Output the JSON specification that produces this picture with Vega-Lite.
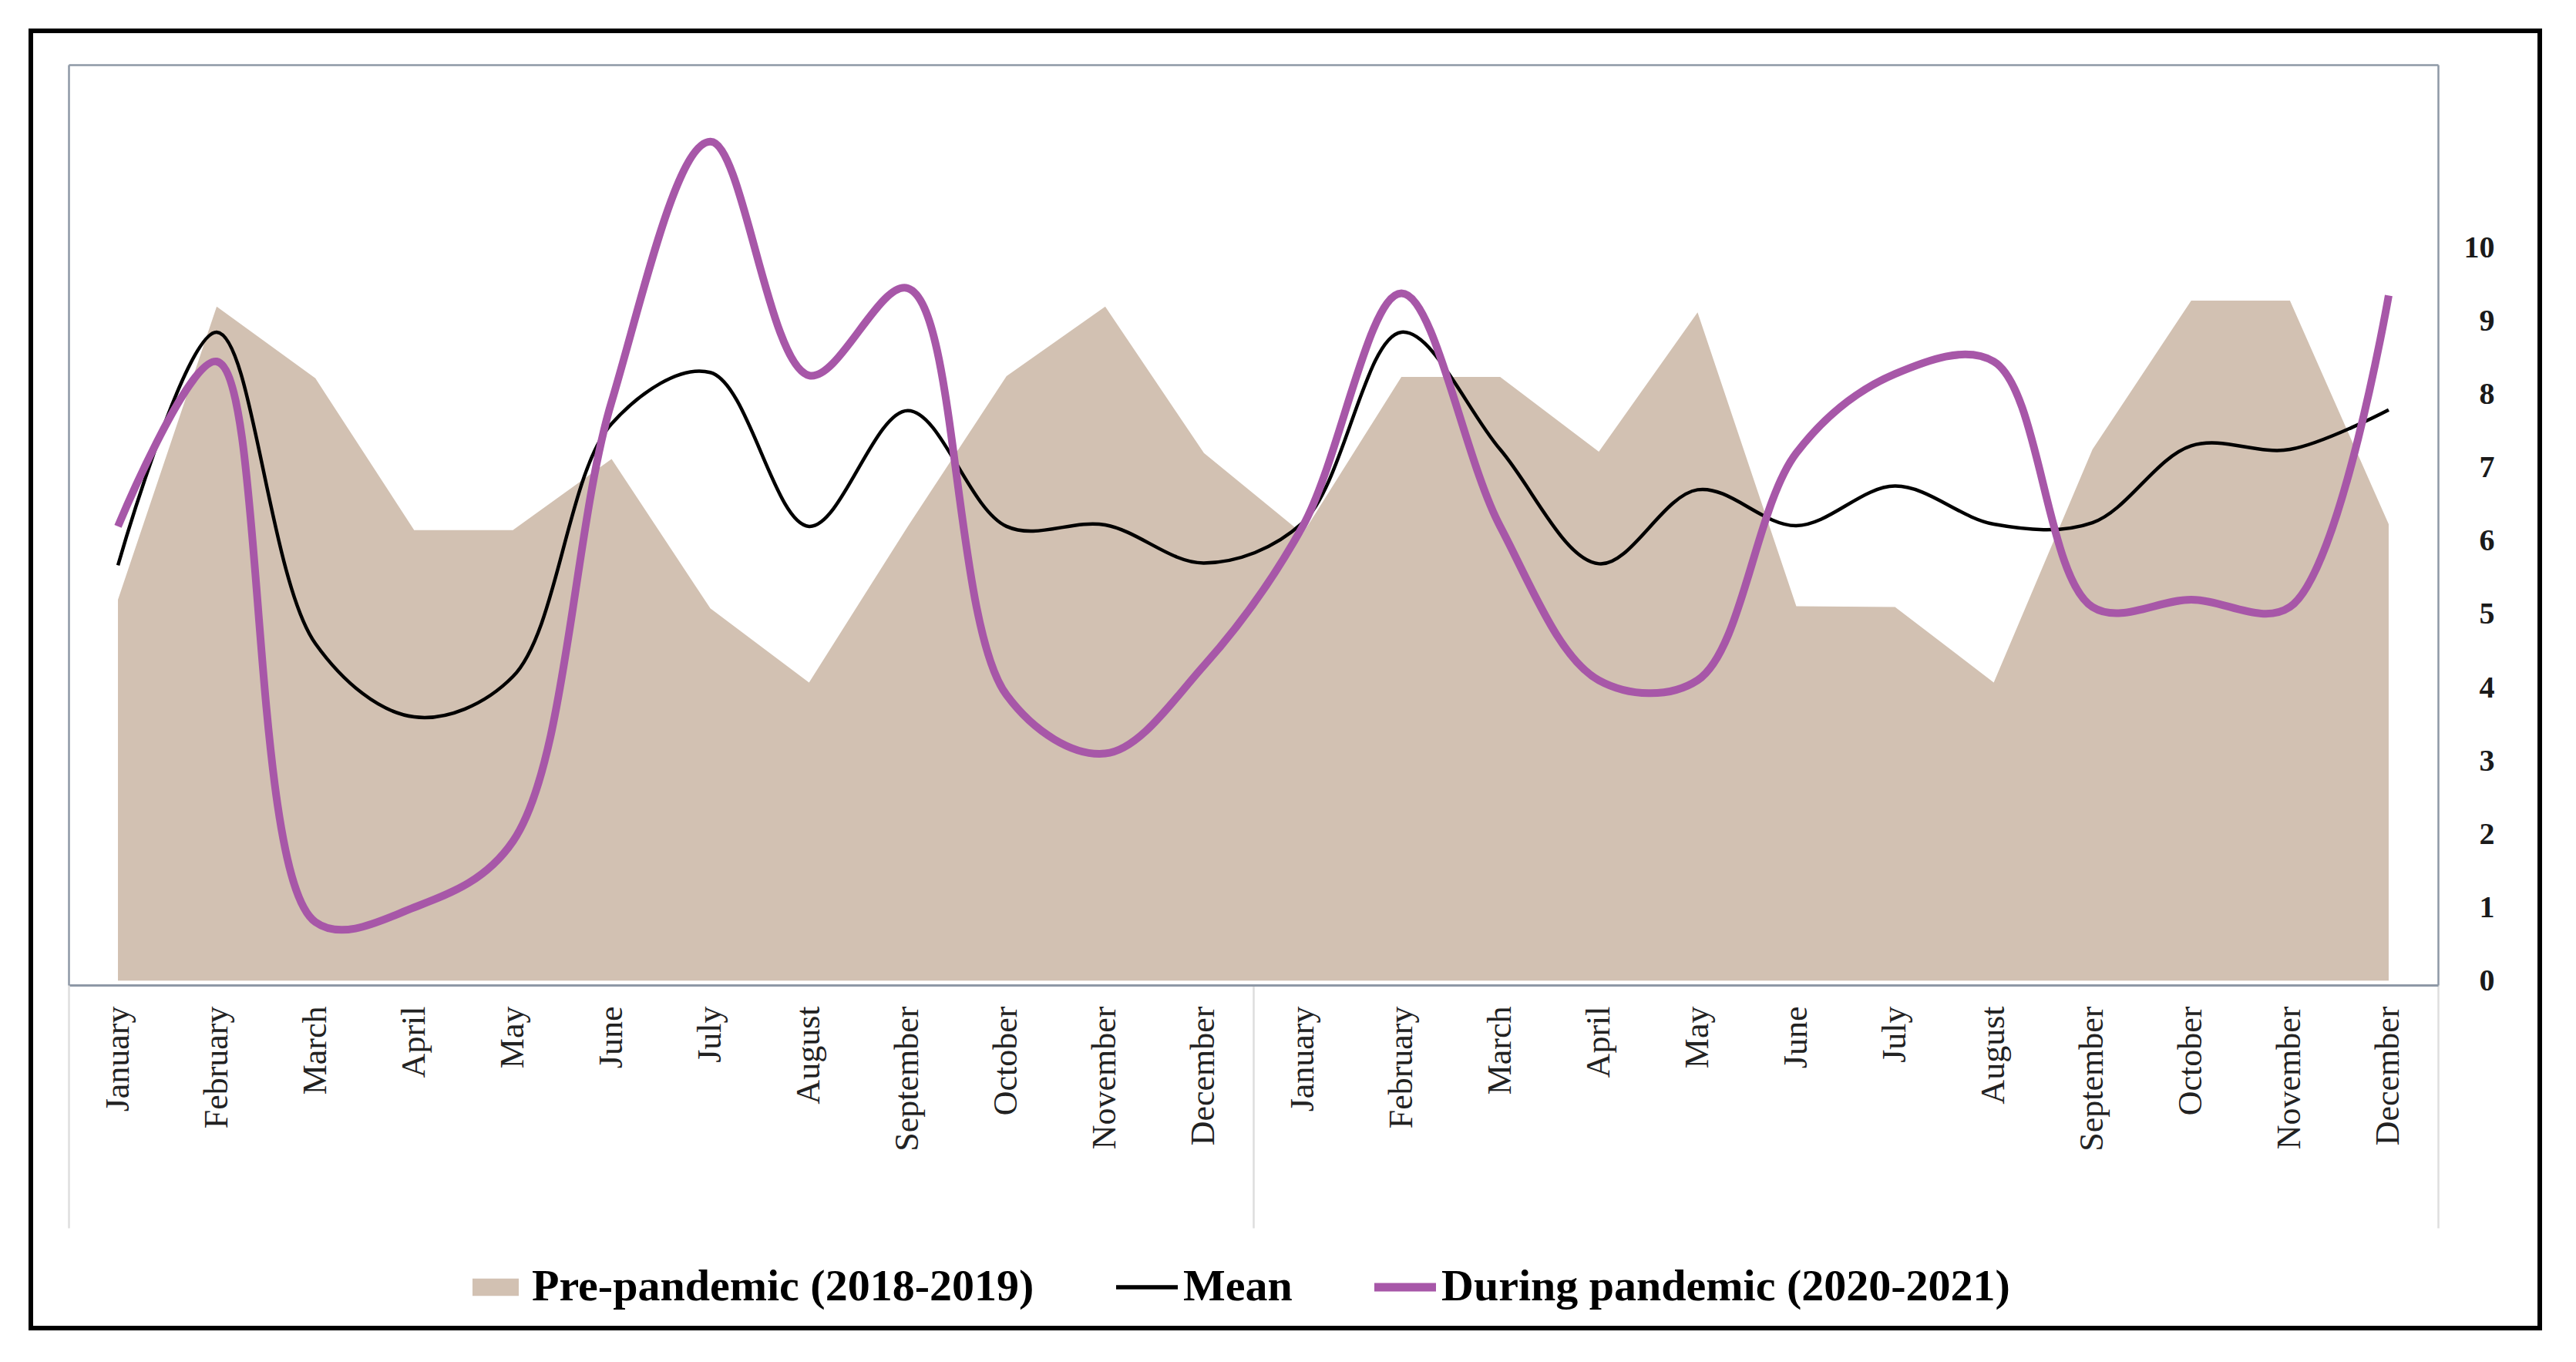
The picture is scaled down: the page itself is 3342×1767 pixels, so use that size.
{
  "$schema": "https://vega.github.io/schema/vega-lite/v6.json",
  "width": 3255,
  "height": 1683,
  "autosize": "none",
  "padding": {"left": 40, "top": 40, "right": 47, "bottom": 44},
  "background": "white",
  "config": {"view": {"stroke": "#000000", "strokeWidth": 6}},
  "data": {"values": [
    {"period": "January Y1", "pre": 5.2, "mean": 5.67, "during": 6.2},
    {"period": "February Y1", "pre": 9.2, "mean": 8.85, "during": 8.45},
    {"period": "March Y1", "pre": 8.22, "mean": 4.6, "during": 0.8},
    {"period": "April Y1", "pre": 6.15, "mean": 3.6, "during": 1.0},
    {"period": "May Y1", "pre": 6.15, "mean": 4.15, "during": 1.9},
    {"period": "June Y1", "pre": 7.12, "mean": 7.6, "during": 7.9},
    {"period": "July Y1", "pre": 5.08, "mean": 8.3, "during": 11.45},
    {"period": "August Y1", "pre": 4.07, "mean": 6.2, "during": 8.26},
    {"period": "September Y1", "pre": 6.2, "mean": 7.78, "during": 9.45},
    {"period": "October Y1", "pre": 8.25, "mean": 6.2, "during": 3.9},
    {"period": "November Y1", "pre": 9.2, "mean": 6.22, "during": 3.1},
    {"period": "December Y1", "pre": 7.2, "mean": 5.7, "during": 4.3},
    {"period": "January Y2", "pre": 6.1, "mean": 6.25, "during": 6.2},
    {"period": "February Y2", "pre": 8.24, "mean": 8.85, "during": 9.38},
    {"period": "March Y2", "pre": 8.24, "mean": 7.25, "during": 6.2},
    {"period": "April Y2", "pre": 7.22, "mean": 5.69, "during": 4.1},
    {"period": "May Y2", "pre": 9.12, "mean": 6.7, "during": 4.1},
    {"period": "June Y2", "pre": 5.11, "mean": 6.21, "during": 7.2},
    {"period": "July Y2", "pre": 5.1, "mean": 6.75, "during": 8.28},
    {"period": "August Y2", "pre": 4.07, "mean": 6.23, "during": 8.45},
    {"period": "September Y2", "pre": 7.25, "mean": 6.25, "during": 5.1},
    {"period": "October Y2", "pre": 9.28, "mean": 7.3, "during": 5.2},
    {"period": "November Y2", "pre": 9.28, "mean": 7.25, "during": 5.1},
    {"period": "December Y2", "pre": 6.23, "mean": 7.79, "during": 9.35}
  ]},
  "layer": [
    {
      "mark": {"type": "area", "interpolate": "linear"},
      "encoding": {
        "x": {
          "field": "period", "type": "ordinal", "sort": null, "title": null,
          "scale": {"type": "point", "range": [49, 3123], "padding": 0.5},
          "axis": {
            "orient": "bottom", "offset": -445,
            "domain": true, "domainColor": "#8e98a6", "domainWidth": 3,
            "ticks": true, "tickSize": 315, "tickWidth": 2.5, "tickColor": "#dedede",
            "tickOffset": 64,
            "tickOpacity": {"condition": {"test": "datum.value === 'December Y1' || datum.value === 'December Y2'", "value": 1}, "value": 0},
            "labels": true, "labelAngle": -90, "labelOffset": -64, "labelPadding": -288,
            "labelFont": "Liberation Serif", "labelFontSize": 44, "labelColor": "#222222",
            "labelExpr": "split(datum.label, ' ')[0]", "labelLimit": 1000,
            "labelOverlap": false, "labelBound": false, "labelFlush": false,
            "grid": false
          }
        },
        "y": {
          "field": "pre", "type": "quantitative", "title": null,
          "scale": {"domain": [-0.06, 12.5], "range": [1238, 44], "nice": false, "zero": false},
          "axis": {
            "orient": "right", "offset": -132,
            "values": [0, 1, 2, 3, 4, 5, 6, 7, 8, 9, 10], "format": "d",
            "domain": true, "domainColor": "#8e98a6", "domainWidth": 2.5,
            "ticks": false, "labelAlign": "right", "labelPadding": 73, "labelBaseline": "middle",
            "labelFont": "Liberation Serif", "labelFontWeight": "bold", "labelFontSize": 40, "labelColor": "#1a1a1a",
            "labelOverlap": false, "labelBound": false, "labelFlush": false,
            "grid": false
          }
        },
        "color": {
          "datum": "Pre-pandemic (2018-2019)", "type": "nominal",
          "scale": {"domain": ["Pre-pandemic (2018-2019)", "Mean", "During pandemic (2020-2021)"], "range": ["#d2c1b2", "#000000", "#a757a8"]},
          "legend": {
            "title": null, "orient": "none", "legendX": 563, "legendY": 1590,
            "direction": "horizontal", "padding": 0, "columnPadding": 106, "labelOffset": 7,
            "symbolSize": 6400,
            "labelFont": "Liberation Serif", "labelFontWeight": "bold", "labelFontSize": 58, "labelColor": "#000000",
            "labelLimit": 0,
            "encode": {
              "symbols": {
                "update": {
                  "shape": {"signal": "datum.value === 'Mean' ? 'M-1,-0.07H1V0.07H-1Z' : (datum.value === 'Pre-pandemic (2018-2019)' ? 'M-0.75,-0.28H0.75V0.28H-0.75Z' : 'M-1,-0.14H1V0.14H-1Z')"},
                  "fill": {"scale": "color", "field": "value"},
                  "stroke": {"value": "transparent"},
                  "strokeWidth": {"value": 0},
                  "opacity": {"value": 1},
                  "fillOpacity": {"value": 1}
                }
              }
            }
          }
        }
      }
    },
    {
      "mark": {"type": "line", "interpolate": "catmull-rom", "strokeWidth": 4.5},
      "encoding": {
        "x": {
          "field": "period", "type": "ordinal", "sort": null, "title": null,
          "axis": {
            "orient": "bottom", "offset": -445, "domain": false, "labels": false,
            "ticks": true, "tickSize": 315, "tickWidth": 2.5, "tickColor": "#dedede", "tickOffset": -64,
            "tickOpacity": {"condition": {"test": "datum.value === 'January Y1'", "value": 1}, "value": 0},
            "grid": false
          }
        },
        "y": {
          "field": "mean", "type": "quantitative", "title": null,
          "axis": {"orient": "left", "offset": -49, "domain": true, "domainColor": "#8e98a6", "domainWidth": 2.5, "ticks": false, "labels": false, "grid": false}
        },
        "color": {"datum": "Mean", "type": "nominal"}
      }
    },
    {
      "mark": {"type": "line", "interpolate": "catmull-rom", "strokeWidth": 10},
      "encoding": {
        "x": {
          "field": "period", "type": "ordinal", "sort": null, "title": null,
          "axis": {"orient": "top", "offset": -44, "domain": true, "domainColor": "#8e98a6", "domainWidth": 2.5, "ticks": false, "labels": false, "grid": false}
        },
        "y": {"field": "during", "type": "quantitative", "title": null, "axis": null},
        "color": {"datum": "During pandemic (2020-2021)", "type": "nominal"}
      }
    }
  ],
  "resolve": {"axis": {"x": "independent", "y": "independent"}}
}
